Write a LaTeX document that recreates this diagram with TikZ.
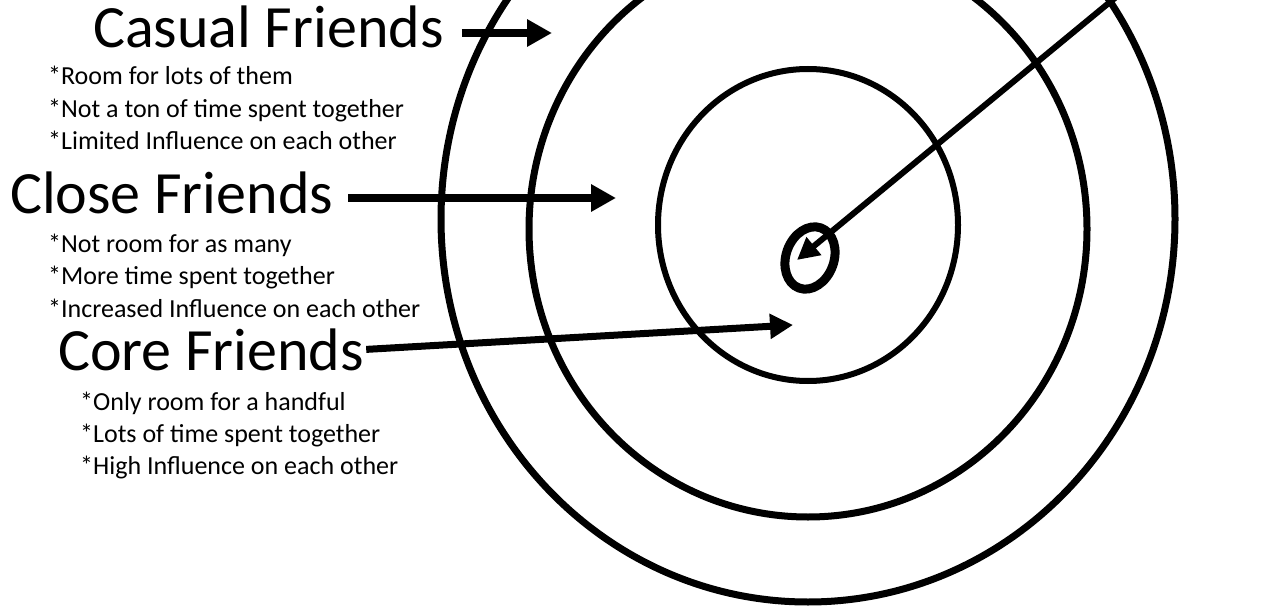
\documentclass[tikz,border=0pt]{standalone}
\usepackage{fontspec}
\setmainfont{Carlito}
\usetikzlibrary{arrows.meta}

\tikzset{
  head/.style={font=\fontsize{60}{60}\selectfont,anchor=base west,inner sep=0pt},
  note/.style={font=\fontsize{26}{31}\selectfont,anchor=base west,inner sep=0pt},
  ring/.style={line width=7pt},
  pointer/.style={line width=7.5pt,-{Triangle[length=25pt,width=26pt]}},
}

\begin{document}
\begin{tikzpicture}[x=1pt,y=-1pt]
  \useasboundingbox (0,0) rectangle (1267,607);
  \clip (0,0) rectangle (1267,607);
  % Target rings
  \draw[ring] (808,219) ellipse [x radius=367,y radius=383];
  \draw[ring] (808,229) ellipse [x radius=279,y radius=288];
  \draw[ring,line width=6pt] (808,225) ellipse [x radius=150,y radius=156];
  \draw[ring,line width=9pt,rotate around={-20:(810,258)}] (810,258) ellipse [x radius=24,y radius=32];
  % Casual
  \node[head] (casual) at (93,48) {Casual Friends};
  \foreach \txt [count=\i] in {Room for lots of them,Not a ton of time spent together,Limited Influence on each other}
    \node[note] (casual\i) at (48,52.5+32.5*\i) {*\txt};
  \coordinate (casualtip) at (552,33);
  \draw[pointer] ([xshift=18pt]casual.east |- casualtip) -- (casualtip);
  % Close
  \node[head] (close) at (10,213) {Close Friends};
  \foreach \txt [count=\i] in {Not room for as many,More time spent together,Increased Influence on each other}
    \node[note] (close\i) at (48,219.5+32.5*\i) {*\txt};
  \coordinate (closetip) at (616,198);
  \draw[pointer] ([xshift=15pt]close.east |- closetip) -- (closetip);
  % Core
  \node[head] (core) at (58,370) {Core Friends};
  \foreach \txt [count=\i] in {Only room for a handful,Lots of time spent together,High Influence on each other}
    \node[note] (core\i) at (80,378+32*\i) {*\txt};
  \coordinate (coretip) at (793,325);
  \draw[pointer,line width=7pt,-{Triangle[length=23pt,width=24pt]}] ([xshift=2pt]core.east) -- (coretip);
  % Bullseye pointer
  \coordinate (bulltail) at (1127,-12);
  \coordinate (bulltip) at (797,260);
  \draw[pointer,line width=6pt,-{Triangle[length=22pt,width=22pt]}] (bulltail) -- (bulltip);
\end{tikzpicture}
\end{document}
